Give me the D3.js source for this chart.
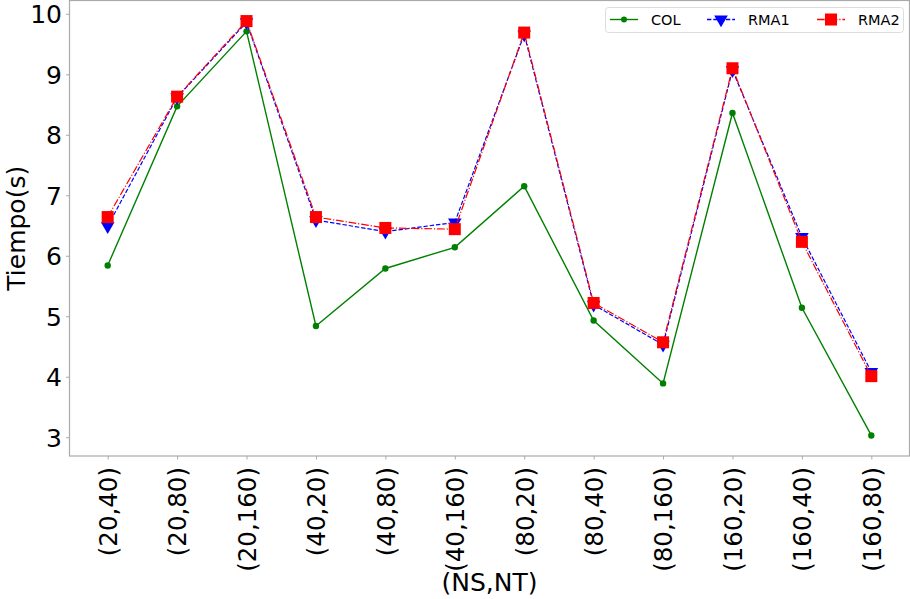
<!DOCTYPE html>
<html>
<head>
<meta charset="utf-8">
<script src="https://cdnjs.cloudflare.com/ajax/libs/d3/7.8.5/d3.min.js"></script>
<style>
  body { margin: 0; background: #fff; }
  text { font-family: "DejaVu Sans", sans-serif; }
</style>
</head>
<body>
<div id="chart"></div>
<script>
// chart data
var categories = ["(20,40)", "(20,80)", "(20,160)", "(40,20)", "(40,80)", "(40,160)",
                  "(80,20)", "(80,40)", "(80,160)", "(160,20)", "(160,40)", "(160,80)"];
var col  = [5.84, 8.47, 9.71, 4.84, 5.79, 6.14, 7.15, 4.93, 3.89, 8.36, 5.14, 3.03];
var rma1 = [6.49, 8.62, 9.86, 6.59, 6.40, 6.55, 9.66, 5.19, 4.53, 9.07, 6.31, 4.08];
var rma2 = [6.64, 8.63, 9.88, 6.64, 6.46, 6.44, 9.69, 5.22, 4.57, 9.10, 6.23, 4.01];
var yTicks = [3, 4, 5, 6, 7, 8, 9, 10];

var W = 910, H = 599;
var plotL = 69.5, plotR = 909.5, plotT = 0.5, plotB = 456;

var svg = d3.select("#chart").append("svg")
  .attr("width", W).attr("height", H);

var x = d3.scalePoint().domain(categories).range([plotL, plotR]).padding(0.55);
var y = d3.scaleLinear().domain([2.69, 10.22]).range([plotB, plotT]);

// frame
svg.append("rect")
  .attr("x", plotL).attr("y", plotT)
  .attr("width", plotR - plotL).attr("height", plotB - plotT)
  .style("fill", "none").style("stroke", "#aaa").style("stroke-width", 1.2);

// y axis
var yAxis = svg.append("g").attr("transform", "translate(" + plotL + ",0)")
  .call(d3.axisLeft(y).tickValues(yTicks).tickSize(3.5).tickPadding(4).tickFormat(d3.format("d")));
yAxis.select(".domain").remove();
yAxis.selectAll("line").style("stroke", "#aaa");
yAxis.selectAll("text").style("font-size", "25px").style("fill", "#000")
  .attr("dy", "0.36em").style("font-family", "DejaVu Sans");

// x axis
var xAxis = svg.append("g").attr("transform", "translate(0," + plotB + ")")
  .call(d3.axisBottom(x).tickSize(3.5).tickPadding(0));
xAxis.select(".domain").remove();
xAxis.selectAll("line").style("stroke", "#aaa");
xAxis.selectAll("text")
  .style("font-size", "24.5px").style("fill", "#000").style("font-family", "DejaVu Sans")
  .attr("text-anchor", "end")
  .attr("x", 0).attr("y", 0).attr("dy", "0.36em")
  .attr("transform", "translate(0,11) rotate(-90)");

// axis titles
svg.append("text")
  .attr("transform", "translate(25," + ((plotT + plotB) / 2) + ") rotate(-90)")
  .attr("text-anchor", "middle")
  .style("font-size", "25px")
  .text("Tiempo(s)");
svg.append("text")
  .attr("x", (plotL + plotR) / 2).attr("y", 591)
  .attr("text-anchor", "middle")
  .style("font-size", "25px")
  .text("(NS,NT)");

var line = d3.line().x(function (d, i) { return x(categories[i]); }).y(function (d) { return y(d); });

// COL
svg.append("path").datum(col).attr("d", line)
  .style("fill", "none").style("stroke", "#008000").style("stroke-width", 1.4);
svg.selectAll(".pcol").data(col).enter().append("circle")
  .attr("cx", function (d, i) { return x(categories[i]); })
  .attr("cy", function (d) { return y(d); })
  .attr("r", 3.2).style("fill", "#008000");

// RMA1
svg.append("path").datum(rma1).attr("d", line)
  .style("fill", "none").style("stroke", "#0000ff").style("stroke-width", 1.2)
  .style("stroke-dasharray", "4.4,1.9");
var tri = d3.symbol().type(d3.symbolTriangle).size(80);
svg.selectAll(".prma1").data(rma1).enter().append("path")
  .attr("d", tri)
  .attr("transform", function (d, i) { return "translate(" + x(categories[i]) + "," + y(d) + ") rotate(180)"; })
  .style("fill", "#0000ff");

// RMA2
svg.append("path").datum(rma2).attr("d", line)
  .style("fill", "none").style("stroke", "#ff0000").style("stroke-width", 1.2)
  .style("stroke-dasharray", "7.7,1.9,1.2,1.9");
svg.selectAll(".prma2").data(rma2).enter().append("rect")
  .attr("x", function (d, i) { return x(categories[i]) - 6; })
  .attr("y", function (d) { return y(d) - 6; })
  .attr("width", 12).attr("height", 12)
  .style("fill", "#ff0000");

// legend
var leg = svg.append("g");
leg.append("rect")
  .attr("x", 605.5).attr("y", 7.5).attr("width", 298).attr("height", 25).attr("rx", 3)
  .style("fill", "#fff").style("stroke", "#ddd").style("stroke-width", 1);
var legItems = [
  { name: "COL", tx: 651 },
  { name: "RMA1", tx: 748 },
  { name: "RMA2", tx: 858 }
];
var ly = 19.5;
// COL entry
leg.append("line").attr("x1", 610).attr("x2", 638).attr("y1", ly).attr("y2", ly)
  .style("stroke", "#008000").style("stroke-width", 1.4);
leg.append("circle").attr("cx", 624).attr("cy", ly).attr("r", 3).style("fill", "#008000");
// RMA1 entry
leg.append("line").attr("x1", 707).attr("x2", 735).attr("y1", ly).attr("y2", ly)
  .style("stroke", "#0000ff").style("stroke-width", 1.5).style("stroke-dasharray", "4.4,1.9");
leg.append("path").attr("d", tri)
  .attr("transform", "translate(721," + ly + ") rotate(180)").style("fill", "#0000ff");
// RMA2 entry
leg.append("line").attr("x1", 817).attr("x2", 845).attr("y1", ly).attr("y2", ly)
  .style("stroke", "#ff0000").style("stroke-width", 1.5).style("stroke-dasharray", "7.7,1.9,1.2,1.9");
leg.append("rect").attr("x", 825).attr("y", ly - 6).attr("width", 12).attr("height", 12)
  .style("fill", "#ff0000");
leg.selectAll(".lt").data(legItems).enter().append("text")
  .attr("x", function (d) { return d.tx; }).attr("y", ly).attr("dy", "0.36em")
  .style("font-size", "14.5px")
  .text(function (d) { return d.name; });
</script>
</body>
</html>
